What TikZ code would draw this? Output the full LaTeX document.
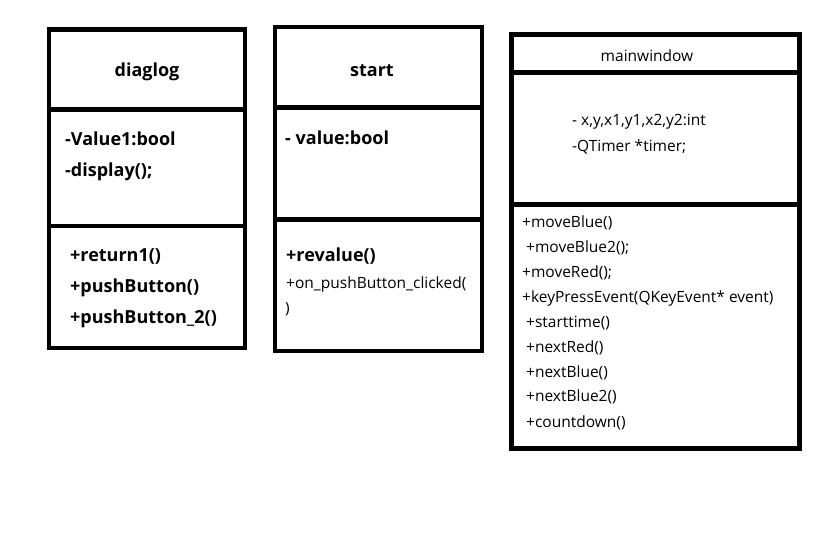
\documentclass[tikz,border=0pt]{standalone}
\usepackage{fontspec}
\setmainfont{Open Sans}
\begin{document}
\begin{tikzpicture}
[x=1pt,y=-1pt,
  boxdecorate/.style={draw,line width=4.5pt},%
  bigtext/.style={anchor=west,inner sep=0pt,font=\fontsize{18}{21}\selectfont\bfseries},%
  smalltext/.style={anchor=west,inner sep=0pt,font=\fontsize{15.5}{18}\selectfont}]
\useasboundingbox (0,0) rectangle (825,552);
%%% class diaglog
% frame and dividers
\draw[boxdecorate] (49,29.5) rectangle (245,348);
\draw[boxdecorate] (49,109.5) -- (245,109.5);
\draw[boxdecorate] (49,226) -- (245,226);
% texts
\node (dtitle) at (147,72) [bigtext,anchor=center] {diaglog};
\node (dvalue) at (65,139) [bigtext] {-Value1:bool};
\node (ddisplay) at (65,172) [bigtext] {-display();};
\node (dreturn) at (70,256) [bigtext] {+return1()};
\node (dpush) at (70,288) [bigtext] {+pushButton()};
\node (dpushtwo) at (70,319) [bigtext] {+pushButton\_2()};
%
%%% class start
% frame and dividers
\draw[boxdecorate] (275,27) rectangle (482,351);
\draw[boxdecorate] (275,107.5) -- (482,107.5);
\draw[boxdecorate] (275,219.5) -- (482,219.5);
% texts
\node (stitle) at (372,71) [bigtext,anchor=center] {start};
\node (svalue) at (285,138) [bigtext] {- value:bool};
\node (srevalue) at (286,256) [bigtext] {+revalue()};
\node (sclicked) at (286,284) [smalltext] {+on\_pushButton\_clicked(};
\node (sclose) at (285,309) [smalltext] {)};
%
%%% class mainwindow
% frame and dividers
\draw[boxdecorate] (511.5,34.5) rectangle (799.5,448.5);
\draw[boxdecorate] (511.5,72.5) -- (799.5,72.5);
\draw[boxdecorate] (511.5,204.5) -- (799.5,204.5);
% texts
\node (mtitle) at (647,56) [smalltext,anchor=center] {mainwindow};
\node (mcoords) at (572,122) [smalltext] {- x,y,x1,y1,x2,y2:int};
\node (mtimer) at (572,147) [smalltext] {-QTimer *timer;};
\node (mblue) at (522,223) [smalltext] {+moveBlue()};
\node (mbluetwo) at (526,248) [smalltext] {+moveBlue2();};
\node (mred) at (522,273) [smalltext] {+moveRed();};
\node (mkey) at (522,298) [smalltext] {+keyPressEvent(QKeyEvent* event)};
\node (mstart) at (526,323) [smalltext] {+starttime()};
\node (mnextred) at (526,348) [smalltext] {+nextRed()};
\node (mnextblue) at (526,373) [smalltext] {+nextBlue()};
\node (mnextbluetwo) at (526,397) [smalltext] {+nextBlue2()};
\node (mcount) at (526,423) [smalltext] {+countdown()};
\end{tikzpicture}
\end{document}
